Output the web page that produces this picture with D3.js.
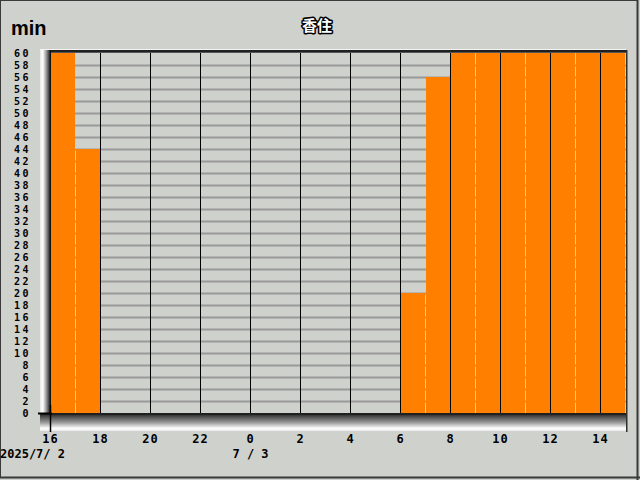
<!DOCTYPE html>
<html><head><meta charset="utf-8">
<script src="https://cdn.jsdelivr.net/npm/d3@7"></script>
<style>body{margin:0;background:#cfd1cd}svg{display:block}</style>
</head><body><svg id="c" width="640" height="480"></svg>
<script>
const title = "香住";
const unitLabel = "min";
const hours = [16,17,18,19,20,21,22,23,0,1,2,3,4,5,6,7,8,9,10,11,12,13,14];
const values = [60,44,0,0,0,0,0,0,0,0,0,0,0,0,20,56,60,60,60,60,60,60,60];
const yTicks = d3.range(0, 61, 2);
const dateLabels = [{i:0, text:"2025/7/ 2"}, {i:8, text:"7 / 3"}];

const svg = d3.select("#c");
const W = 640, H = 480;
const L = 51, R = 626, T = 52, B = 413;
const x = d3.scaleLinear().domain([0, hours.length]).range([50, 625]);
const y = d3.scaleLinear().domain([0, 60]).range([B, 53]);
const bg = "#cfd1cd";

svg.append("rect").attr("width", W).attr("height", H).attr("fill", bg);
// outer frame
svg.append("rect").attr("x",0.5).attr("y",0.5).attr("width",W-3).attr("height",H-3)
  .attr("fill","none").attr("stroke","#3a3a3a").attr("stroke-width",1);
svg.append("line").attr("x1",W-2.5).attr("x2",W-2.5).attr("y1",0).attr("y2",H).attr("stroke","#3a3a3a").attr("stroke-width",2);
svg.append("line").attr("x1",0).attr("x2",W).attr("y1",H-2.5).attr("y2",H-2.5).attr("stroke","#3a3a3a").attr("stroke-width",2);

const defs = svg.append("defs");
const wall = defs.append("linearGradient").attr("id","wall").attr("x1",0).attr("x2",1).attr("y1",0).attr("y2",0);
wall.append("stop").attr("offset",0).attr("stop-color","#e8e8e8");
wall.append("stop").attr("offset",0.25).attr("stop-color","#ffffff");
wall.append("stop").attr("offset",0.6).attr("stop-color","#909090");
wall.append("stop").attr("offset",1).attr("stop-color","#000000");
const floor = defs.append("linearGradient").attr("id","floor").attr("x1",0).attr("x2",0).attr("y1",0).attr("y2",1);
floor.append("stop").attr("offset",0).attr("stop-color","#1a1a1a");
floor.append("stop").attr("offset",0.55).attr("stop-color","#a0a0a0");
floor.append("stop").attr("offset",0.85).attr("stop-color","#ffffff");
floor.append("stop").attr("offset",1).attr("stop-color","#e8e8e8");

// top light line
svg.append("rect").attr("x",40).attr("y",49).attr("width",R-40).attr("height",1).attr("fill","#f4f4f4");
// wall
svg.append("rect").attr("x",40).attr("y",50).attr("width",11).attr("height",B-50+3).attr("fill","url(#wall)");
// floor
svg.append("rect").attr("x",40).attr("y",B).attr("width",R-40+1).attr("height",18).attr("fill","url(#floor)");

// horizontal grid
svg.append("g").selectAll("line").data(yTicks.filter(d=>d>0 && d<60)).join("line")
  .attr("x1",L).attr("x2",R).attr("y1",d=>y(d)+0.5).attr("y2",d=>y(d)+0.5)
  .attr("stroke","#9a9a9a").attr("stroke-width",2);
// vertical grid at even hours
svg.append("g").selectAll("line").data(d3.range(0, hours.length, 2).filter(i=>i>0)).join("line")
  .attr("x1",i=>x(i)+0.5).attr("x2",i=>x(i)+0.5).attr("y1",T).attr("y2",B)
  .attr("stroke","#000").attr("stroke-width",1);

// bars
svg.append("g").selectAll("rect").data(values).join("rect")
  .attr("x",(d,i)=>x(i)+1).attr("width",(d,i)=>x(i+1)-x(i)-1)
  .attr("y",d=>y(d)).attr("height",d=>B-y(d))
  .attr("fill","#ff8000");

// top dark line
svg.append("rect").attr("x",L).attr("y",50).attr("width",R-L).attr("height",2).attr("fill","#202020");
svg.append("rect").attr("x",L).attr("y",52).attr("width",R-L).attr("height",1).attr("fill","#555");
// bottom dark line
svg.append("rect").attr("x",L).attr("y",B).attr("width",R-L).attr("height",2).attr("fill","#202020");
// right border
svg.append("rect").attr("x",R).attr("y",50).attr("width",1.5).attr("height",432-50).attr("fill","#303030");
// zero tick and 16 tick
svg.append("line").attr("x1",38).attr("x2",52).attr("y1",B+0.5).attr("y2",B+0.5).attr("stroke","#000").attr("stroke-width",2);
svg.append("line").attr("x1",50.5).attr("x2",50.5).attr("y1",B-8).attr("y2",432).attr("stroke","#000").attr("stroke-width",1.5);

const font = "'DejaVu Sans Mono', monospace";
// y labels
svg.append("g").selectAll("text").data(yTicks).join("text")
  .attr("x",31).attr("y",d=>y(d)+4).attr("text-anchor","end")
  .attr("font-family",font).attr("font-weight","bold").attr("font-size",10)
  .attr("letter-spacing",2.5).attr("fill","#000").text(d=>d);
// x labels
svg.append("g").selectAll("text").data(d3.range(0, hours.length, 2)).join("text")
  .attr("x",i=>x(i)+0.5).attr("y",443).attr("text-anchor","middle")
  .attr("font-family",font).attr("font-weight","bold").attr("font-size",12)
  .attr("letter-spacing",1).attr("fill","#000").text(i=>hours[i]);
// date labels
svg.append("g").selectAll("text").data(dateLabels).join("text")
  .attr("x",d=>d.i===0 ? 0 : x(d.i)+0.5).attr("y",458)
  .attr("text-anchor",d=>d.i===0 ? "start" : "middle")
  .attr("font-family",font).attr("font-weight","bold").attr("font-size",12)
  .attr("fill","#000").text(d=>d.text);
// unit label
svg.append("text").attr("x",11).attr("y",35).attr("font-family","'Liberation Sans', Arial, sans-serif")
  .attr("font-weight","bold").attr("font-size",20).attr("fill","#000").text(unitLabel);
// title
svg.append("text").attr("x",317).attr("y",31).attr("text-anchor","middle")
  .attr("font-family","'Noto Sans CJK JP', sans-serif").attr("font-weight","bold").attr("font-size",15)
  .attr("fill","#fff").attr("stroke","#000").attr("stroke-width",3).attr("paint-order","stroke")
  .attr("stroke-linejoin","round").text(title);
</script></body></html>
